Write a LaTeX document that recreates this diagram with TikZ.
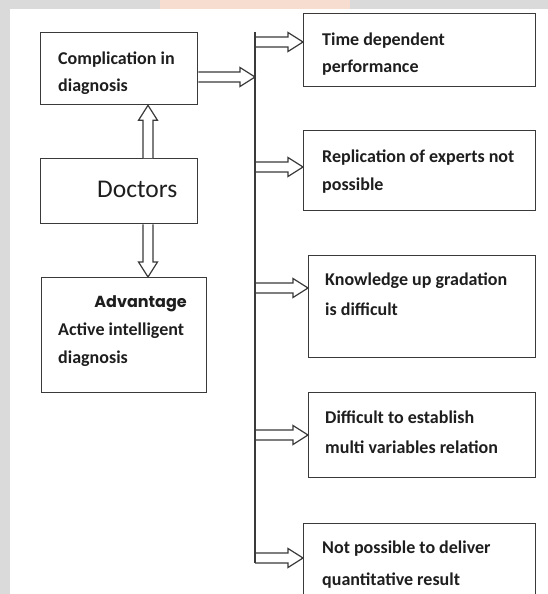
\documentclass[tikz,border=0pt]{standalone}
\usepackage{fontspec}
\setmainfont{Carlito}
\newfontfamily\advfont{Poppins}
\usetikzlibrary{calc}
\definecolor{boxc}{HTML}{3A3A3A}
\definecolor{txtc}{HTML}{1E1E1E}
\definecolor{bandc}{HTML}{DADADA}
\definecolor{wmc}{HTML}{F6DDD0}
\tikzset{
  box/.style={draw=boxc, line width=1.3pt, inner sep=0pt, anchor=north west},
  txt/.style={anchor=base west, align=left, inner sep=0pt, text=txtc,
    font=\bfseries\fontsize{18}{#1}\selectfont},
  txt/.default=27,
  trunkline/.style={draw=boxc, line width=1.4pt},
  barrow/.style={draw=boxc, line width=1.2pt, fill=white, line join=miter},
}
\newcommand\blockarrow[2]{%
  \draw[barrow] let \p1=(#1), \p2=(#2),
    \n1={veclen(\x2-\x1,\y2-\y1)}, \n2={atan2(\y2-\y1,\x2-\x1)} in
    [shift={(\p1)}, rotate=\n2]
    (0pt,-5pt) -- ({\n1-15pt},-5pt) -- ({\n1-15pt},-9.5pt) -- (\n1,0pt)
    -- ({\n1-15pt},9.5pt) -- ({\n1-15pt},5pt) -- (0pt,5pt);}
\begin{document}
\begin{tikzpicture}[x=1pt,y=-1pt]
\useasboundingbox (0,0) rectangle (548,594);
\fill[white] (0,0) rectangle (548,594);
\fill[bandc] (0,0) rectangle (548,9);
\fill[bandc] (0,0) rectangle (10,594);
\fill[wmc] (160,0) rectangle (350,9);

% left column boxes
\node[box, minimum width=157pt, minimum height=72pt] (c) at (40,32) {};
\node[box, minimum width=157pt, minimum height=65pt] (d) at (40,158) {};
\node[box, minimum width=165pt, minimum height=115pt] (a) at (41,277) {};

% right column boxes
\node[box, minimum width=232pt, minimum height=73pt] (b1) at (303,13) {};
\node[box, minimum width=232pt, minimum height=80pt] (b2) at (303,130) {};
\node[box, minimum width=227pt, minimum height=102pt] (b3) at (308,255) {};
\node[box, minimum width=227pt, minimum height=85pt] (b4) at (308,392) {};
\node[box, minimum width=232pt, minimum height=90pt] (b5) at (303,523) {};

% texts (anchor = baseline of the last line)
\node[txt=26] (tc) at (58,91) {Complication in\\diagnosis};
\node[anchor=base west, inner sep=0pt, text=txtc, font=\fontsize{25.5}{28}\selectfont] (td) at (97,197) {Doctors};
\node[anchor=base east, inner sep=0pt, text=txtc, font=\advfont\bfseries\fontsize{16}{20}\selectfont] (ta1) at (187,307) {Advantage};
\node[txt=28] (ta2) at (58,363) {Active intelligent\\diagnosis};
\node[txt=27] (t1) at (322,72) {Time dependent\\performance};
\node[txt=28] (t2) at (322,190) {Replication of experts not\\possible};
\node[txt=30] (t3) at (325,315) {Knowledge up gradation\\is difficult};
\node[txt=30] (t4) at (325,453) {Difficult to establish\\multi variables relation};
\node[txt=32] (t5) at (322,585) {Not possible to deliver\\quantitative result};

% trunk and junction points
\coordinate (ttop) at (255,32);
\coordinate (tbot) at (255,563);
\coordinate (cj) at (255,77);
\coordinate (j1) at (255,42);
\coordinate (j2) at (255,167);
\coordinate (j3) at (255,288);
\coordinate (j4) at (255,435);
\coordinate (j5) at (255,558);
\coordinate (ux) at (148,0);

% arrows
\blockarrow{cj -| c.east}{cj}
\blockarrow{ux |- d.north}{ux |- c.south}
\blockarrow{ux |- d.south}{ux |- a.north}
\blockarrow{j1}{j1 -| b1.west}
\blockarrow{j2}{j2 -| b2.west}
\blockarrow{j3}{j3 -| b3.west}
\blockarrow{j4}{j4 -| b4.west}
\blockarrow{j5}{j5 -| b5.west}

\draw[trunkline] (ttop) -- (tbot);
\end{tikzpicture}
\end{document}
